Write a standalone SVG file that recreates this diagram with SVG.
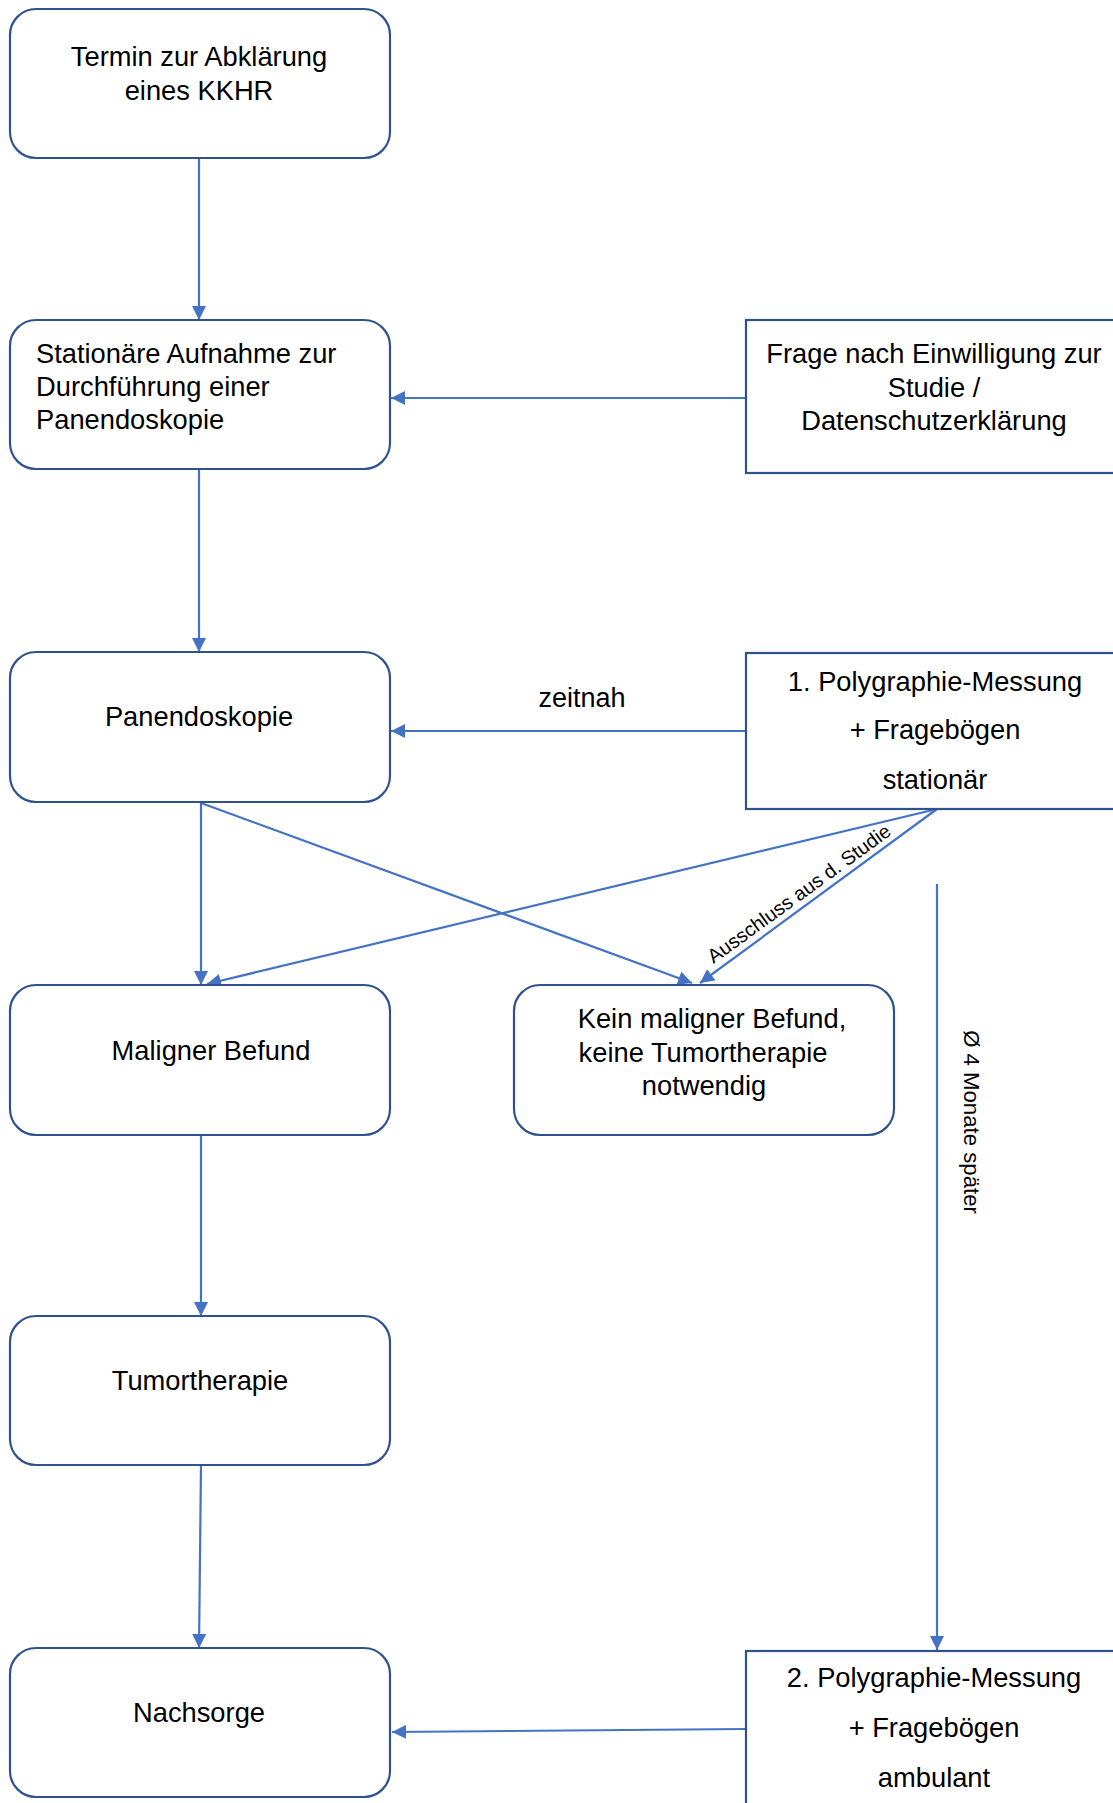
<svg xmlns="http://www.w3.org/2000/svg" width="1113" height="1803" viewBox="0 0 1113 1803">
<defs>
<style>
.box{fill:#fff;stroke:#2F528F;stroke-width:2.2}
.t{font-family:"Liberation Sans",Arial,sans-serif;font-size:27.3px;fill:#000}
.c{text-anchor:middle}
.ln{stroke:#4472C4;stroke-width:2.2;fill:none;marker-end:url(#ah)}
.lbl{font-family:"Liberation Sans",Arial,sans-serif;fill:#000}
</style>
<marker id="ah" markerUnits="userSpaceOnUse" markerWidth="16" markerHeight="14" refX="14" refY="7" orient="auto">
<path d="M0,0 L14,7 L0,14 Z" fill="#4472C4"/>
</marker>
</defs>
<rect width="1113" height="1803" fill="#fff"/>
<g id="connectors">
<line class="ln" x1="199" y1="159" x2="199" y2="320"/>
<line class="ln" x1="746" y1="398" x2="391" y2="398"/>
<line class="ln" x1="199" y1="470" x2="199" y2="652"/>
<line class="ln" x1="746" y1="731" x2="391" y2="731"/>
<line class="ln" x1="201" y1="803" x2="201" y2="985"/>
<line class="ln" x1="201" y1="803" x2="692" y2="983"/>
<line class="ln" x1="937" y1="809" x2="207" y2="984"/>
<line class="ln" x1="937" y1="809" x2="700" y2="983"/>
<line class="ln" x1="937" y1="884" x2="937" y2="1650"/>
<line class="ln" x1="201" y1="1135" x2="201" y2="1316"/>
<line class="ln" x1="201" y1="1466" x2="199" y2="1648"/>
<line class="ln" x1="746" y1="1729" x2="392" y2="1732"/>
<text class="lbl c" x="582" y="707" font-size="27">zeitnah</text>
<text class="lbl c" font-size="19.8" transform="translate(803,899) rotate(-36)" x="0" y="0">Ausschluss aus d. Studie</text>
<text class="lbl c" font-size="22.2" transform="translate(964,1122) rotate(90)" x="0" y="0">Ø 4 Monate später</text>
</g>
<g id="n1">
<rect class="box" x="10" y="9" width="380" height="149" rx="26"/>
<text class="t c" x="199" y="66">Termin zur Abklärung</text>
<text class="t c" x="199" y="100">eines KKHR</text>
</g>
<g id="n2">
<rect class="box" x="10" y="320" width="380" height="149" rx="26"/>
<text class="t" x="36" y="363">Stationäre Aufnahme zur</text>
<text class="t" x="36" y="396">Durchführung einer</text>
<text class="t" x="36" y="429">Panendoskopie</text>
</g>
<g id="n3">
<rect class="box" x="746" y="320" width="400" height="153"/>
<text class="t c" x="934" y="363">Frage nach Einwilligung zur</text>
<text class="t c" x="934" y="397">Studie /</text>
<text class="t c" x="934" y="430">Datenschutzerklärung</text>
</g>
<g id="n4">
<rect class="box" x="10" y="652" width="380" height="150" rx="26"/>
<text class="t c" x="199" y="726">Panendoskopie</text>
</g>
<g id="n5">
<rect class="box" x="746" y="653" width="400" height="156"/>
<text class="t c" x="935" y="691">1. Polygraphie-Messung</text>
<text class="t c" x="935" y="739">+ Fragebögen</text>
<text class="t c" x="935" y="789">stationär</text>
</g>
<g id="n6">
<rect class="box" x="10" y="985" width="380" height="150" rx="26"/>
<text class="t c" x="211" y="1060">Maligner Befund</text>
</g>
<g id="n7">
<rect class="box" x="514" y="985" width="380" height="150" rx="26"/>
<text class="t c" x="712" y="1028">Kein maligner Befund,</text>
<text class="t c" x="703" y="1062">keine Tumortherapie</text>
<text class="t c" x="704" y="1095">notwendig</text>
</g>
<g id="n8">
<rect class="box" x="10" y="1316" width="380" height="149" rx="26"/>
<text class="t c" x="200" y="1390">Tumortherapie</text>
</g>
<g id="n9">
<rect class="box" x="10" y="1648" width="380" height="149" rx="26"/>
<text class="t c" x="199" y="1722">Nachsorge</text>
</g>
<g id="n10">
<rect class="box" x="746" y="1651" width="400" height="200"/>
<text class="t c" x="934" y="1687">2. Polygraphie-Messung</text>
<text class="t c" x="934" y="1737">+ Fragebögen</text>
<text class="t c" x="934" y="1787">ambulant</text>
</g>
</svg>
